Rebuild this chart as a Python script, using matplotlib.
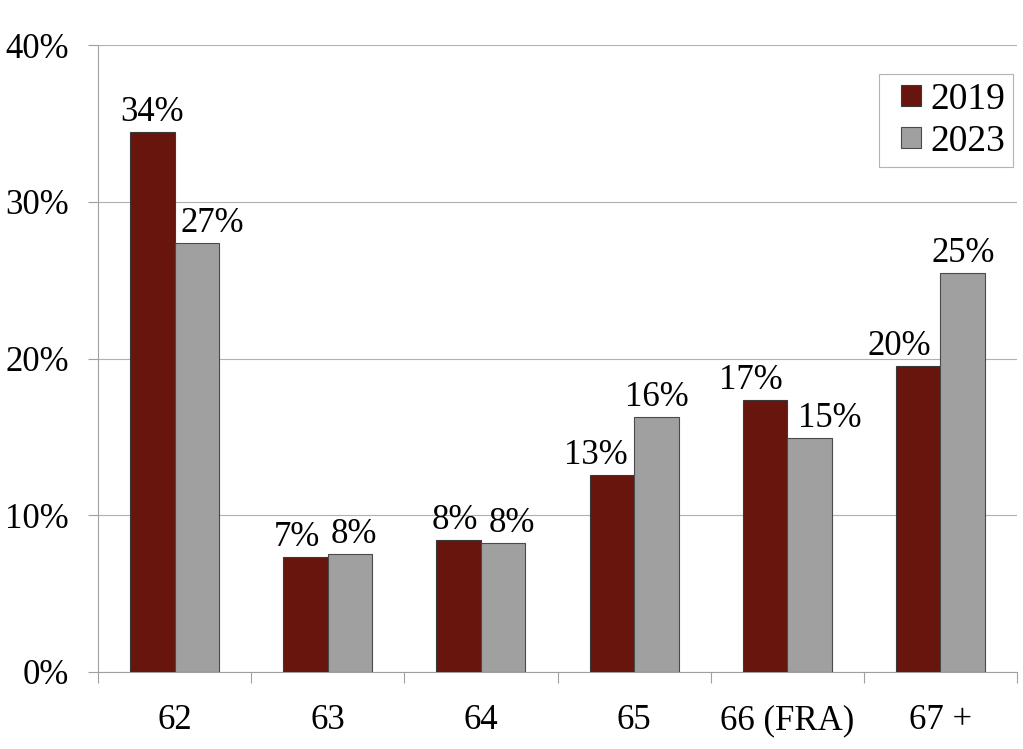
import matplotlib
matplotlib.use("Agg")
import matplotlib.pyplot as plt
from matplotlib.patches import Rectangle
from matplotlib.legend_handler import HandlerPatch
from matplotlib.container import BarContainer
import numpy as np

categories = ["62", "63", "64", "65", "66 (FRA)", "67 +"]
series_names = ["2019", "2023"]
values_2019 = [34.45, 7.34, 8.42, 12.57, 17.35, 19.52]
values_2023 = [27.37, 7.53, 8.23, 16.27, 14.93, 25.45]
yticks = [0, 10, 20, 30, 40]

# label horizontal offsets (pixels) relative to bar centre
off_2019 = [0, -9, -4, -16, -14, -19]
off_2023 = [16, 4, 9, 1, 20, 1]

plt.rcParams['font.family'] = ['Liberation Serif', 'DejaVu Serif']
FS = 25
LFS = 27

fig = plt.figure(figsize=(10.23, 7.49), dpi=100)
ax = fig.add_axes([98/1023, 77/749, (1017-98)/1023, (672-45)/749])

x = np.arange(len(categories))
w = 0.29
c19 = "#67150D"
c23 = "#A0A0A0"
b1 = ax.bar(x - w/2, values_2019, w, color=c19, edgecolor="#3a3a3a", linewidth=0.8, label=series_names[0], zorder=3)
b2 = ax.bar(x + w/2, values_2023, w, color=c23, edgecolor="#4a4a4a", linewidth=0.8, label=series_names[1], zorder=3)

for bars, vals, offs in ((b1, values_2019, off_2019), (b2, values_2023, off_2023)):
    for rect, v, o in zip(bars, vals, offs):
        ax.annotate(f"{v:.0f}%", (rect.get_x() + rect.get_width()/2, v),
                    xytext=(o*0.72, 2), textcoords="offset points",
                    ha="center", va="bottom", fontsize=FS, color="black", zorder=4)

ax.set_xlim(-0.5, len(categories) - 0.5)
ax.set_ylim(0, 40)
ax.set_yticks(yticks)
ax.set_yticklabels([f"{t}%" for t in yticks], fontsize=FS)
ax.yaxis.grid(True, color="#b0b0b0", linewidth=0.8, zorder=0)
ax.set_axisbelow(True)

ax.set_xticks(x)
ax.set_xticklabels(categories, fontsize=FS)
ax.tick_params(axis="x", length=0, pad=23)
ax.set_xticks(np.arange(-0.5, len(categories)), minor=True)
ax.tick_params(axis="x", which="minor", length=8, color="#a0a0a0", width=0.8, direction="out")
ax.tick_params(axis="y", length=7, color="#a0a0a0", width=0.8, pad=14)

for s in ["top", "right"]:
    ax.spines[s].set_visible(False)
ax.spines["left"].set_color("#a0a0a0")
ax.spines["bottom"].set_color("#a0a0a0")
ax.spines["left"].set_linewidth(0.8)
ax.spines["bottom"].set_linewidth(0.8)


def square_patch(legend, orig_handle, xdescent, ydescent, width, height, fontsize):
    s = 14.5  # points
    return Rectangle((-xdescent + width - s, -ydescent + (height - s) / 2), s, s)


def update_first(legend_handle, orig_handle):
    legend_handle.update_from(orig_handle.patches[0])


leg = ax.legend(loc="upper right", bbox_to_anchor=(1013/1023, 675/749), bbox_transform=fig.transFigure,
                fontsize=LFS, frameon=True, fancybox=False, edgecolor="#a0a0a0",
                handlelength=0.9, handleheight=0.55, handletextpad=0.24, borderpad=0.22, labelspacing=0.2,
                borderaxespad=0,
                handler_map={BarContainer: HandlerPatch(patch_func=square_patch, update_func=update_first)})
leg.get_frame().set_linewidth(0.8)

fig.savefig("out.png", dpi=100, facecolor="white")
